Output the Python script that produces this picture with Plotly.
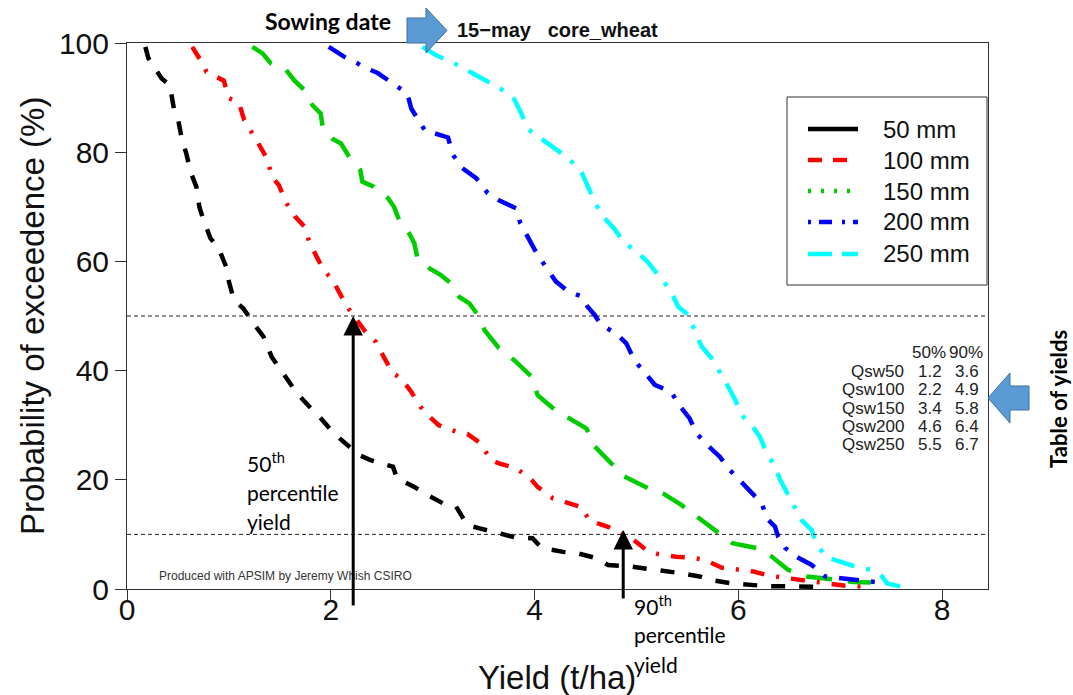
import plotly.graph_objects as go

# ---------------- data ----------------
series_names = ["50 mm", "100 mm", "150 mm", "200 mm", "250 mm"]

qsw50_yield = [0.18, 0.21, 0.34, 0.42, 0.46, 0.50, 0.54, 0.58, 0.63, 0.68, 0.71, 0.75, 0.82, 0.90, 0.98,
               1.00, 1.05, 1.14, 1.28, 1.34, 1.42, 1.49, 1.62, 1.67, 1.82, 1.90, 2.03, 2.13, 2.28, 2.39,
               2.61, 2.65, 2.82, 2.92, 3.10, 3.23, 3.34, 3.46, 3.67, 3.80, 3.98, 4.07, 4.28, 4.43, 4.62,
               4.72, 4.95, 5.08, 5.28, 5.43, 5.62, 5.74, 5.95, 6.10, 6.30, 6.44, 6.64, 6.79]
qsw50_prob = [99.3, 97.2, 93.5, 92.3, 88.0, 86.2, 82.2, 79.9, 76.1, 73.7, 70.0, 67.6, 64.2, 62.4, 58.7,
              56.3, 52.9, 51.4, 47.7, 46.2, 42.5, 40.7, 37.4, 35.8, 32.8, 31.3, 28.5, 27.0, 24.5, 23.6,
              22.4, 20.3, 18.7, 17.5, 15.7, 15.1, 11.7, 11.1, 10.2, 9.5, 9.3, 7.5, 6.8, 6.5, 5.6,
              4.4, 4.1, 3.8, 3.2, 2.9, 2.3, 1.6, 1.0, 0.7, 0.5, 0.5, 0.4, 0.4]

qsw100_yield = [0.64, 0.73, 0.78, 0.95, 1.00, 1.10, 1.15, 1.23, 1.29, 1.38, 1.42, 1.49, 1.56, 1.65, 1.74,
                1.79, 1.87, 1.92, 2.02, 2.11, 2.16, 2.34, 2.44, 2.52, 2.61, 2.69, 2.79, 2.88, 2.93, 3.06,
                3.23, 3.34, 3.47, 3.57, 3.65, 3.82, 3.97, 4.03, 4.18, 4.34, 4.46, 4.54, 4.72, 4.82, 4.97,
                5.10, 5.21, 5.39, 5.56, 5.67, 5.84, 6.02, 6.15, 6.31, 6.48, 6.59, 6.75, 6.89, 7.05, 7.25]
qsw100_prob = [99.3, 96.6, 94.7, 93.1, 89.9, 89.0, 85.9, 83.2, 81.6, 78.6, 75.5, 74.0, 70.8, 68.2, 66.4,
               63.5, 60.6, 58.7, 56.5, 53.5, 51.7, 47.1, 45.3, 42.5, 39.5, 38.6, 36.1, 33.4, 32.2, 30.0,
               28.8, 28.4, 26.7, 23.6, 23.0, 22.1, 20.0, 18.7, 16.6, 15.7, 15.0, 12.5, 11.4, 10.5, 9.0,
               7.1, 6.4, 5.9, 5.7, 5.3, 3.9, 3.5, 3.2, 2.4, 2.0, 1.6, 1.2, 0.9, 0.6, 0.4]

qsw150_yield = [1.23, 1.33, 1.41, 1.56, 1.64, 1.74, 1.82, 1.90, 1.92, 2.01, 2.10, 2.18, 2.29, 2.31, 2.42,
                2.56, 2.62, 2.67, 2.77, 2.82, 2.85, 2.97, 3.08, 3.18, 3.26, 3.36, 3.44, 3.51, 3.65, 3.80,
                3.97, 4.03, 4.20, 4.33, 4.51, 4.59, 4.75, 4.88, 5.12, 5.26, 5.44, 5.62, 5.80, 5.94, 6.18,
                6.33, 6.49, 6.67, 6.92, 7.12, 7.30]
qsw150_prob = [99.3, 98.1, 96.3, 95.1, 93.2, 91.4, 88.6, 87.1, 84.7, 82.5, 81.6, 79.2, 76.7, 74.6, 73.7,
               71.6, 70.0, 67.6, 65.1, 63.3, 60.6, 58.7, 57.5, 56.0, 53.5, 52.3, 50.3, 47.4, 44.1, 41.9,
               38.9, 35.5, 32.8, 31.3, 29.4, 26.1, 23.0, 20.6, 18.4, 17.5, 15.4, 12.9, 10.2, 8.4, 7.5,
               5.9, 3.5, 2.3, 1.8, 1.3, 1.2]

qsw200_yield = [1.98, 2.13, 2.26, 2.31, 2.46, 2.59, 2.75, 2.79, 2.87, 2.93, 3.01, 3.15, 3.20, 3.26, 3.29,
                3.43, 3.54, 3.65, 3.82, 3.86, 3.95, 4.02, 4.11, 4.21, 4.33, 4.46, 4.52, 4.59, 4.65, 4.80,
                4.90, 4.98, 5.10, 5.18, 5.34, 5.43, 5.52, 5.59, 5.71, 5.82, 5.90, 6.02, 6.13, 6.23, 6.28,
                6.36, 6.39, 6.46, 6.57, 6.72, 6.85, 7.02, 7.21, 7.38]
qsw200_prob = [99.3, 97.5, 96.3, 95.7, 94.5, 92.9, 90.8, 88.0, 85.6, 83.8, 83.5, 82.7, 79.5, 77.7, 77.1,
               75.2, 72.5, 71.2, 69.7, 67.0, 63.9, 61.5, 59.0, 56.3, 54.5, 53.6, 51.7, 50.2, 48.4, 46.8,
               45.0, 41.9, 39.2, 37.4, 36.1, 33.4, 31.3, 28.5, 26.1, 24.2, 22.1, 19.7, 17.8, 15.7, 12.9,
               11.4, 9.6, 7.5, 5.9, 4.4, 2.3, 2.0, 1.5, 1.2]

qsw250_yield = [2.90, 3.03, 3.21, 3.36, 3.51, 3.66, 3.80, 3.87, 3.93, 4.06, 4.23, 4.33, 4.46, 4.52, 4.59,
                4.66, 4.79, 4.87, 5.00, 5.11, 5.23, 5.33, 5.41, 5.51, 5.57, 5.64, 5.74, 5.82, 5.89, 5.97,
                6.03, 6.13, 6.21, 6.28, 6.36, 6.41, 6.49, 6.54, 6.62, 6.72, 6.75, 6.85, 7.02, 7.15, 7.31,
                7.41, 7.46, 7.61]
qsw250_prob = [99.3, 97.8, 96.3, 94.7, 93.2, 91.7, 89.7, 87.1, 84.3, 82.5, 80.4, 78.9, 76.4, 73.7, 70.9,
               68.5, 65.8, 63.6, 61.8, 59.9, 57.2, 54.8, 51.7, 50.2, 47.4, 44.4, 42.2, 39.8, 37.4, 34.6,
               31.9, 30.0, 27.9, 24.9, 22.4, 20.0, 17.2, 15.1, 12.6, 10.8, 9.0, 5.9, 5.0, 4.1, 3.5,
               2.3, 1.0, 0.4]

ref_levels = [50, 10]                     # horizontal dashed reference lines (%)
p50_yield_marker = 2.22                   # 50th percentile arrow position (t/ha)
p90_yield_marker = 4.87                   # 90th percentile arrow position (t/ha)

table_names = ["Qsw50", "Qsw100", "Qsw150", "Qsw200", "Qsw250"]
table_p50 = ["1.2", "2.2", "3.4", "4.6", "5.5"]
table_p90 = ["3.6", "4.9", "5.8", "6.4", "6.7"]

x_ticks = [0, 2, 4, 6, 8]
y_ticks = [0, 20, 40, 60, 80, 100]

# ---------------- styles ----------------
colors = ["#000000", "#FF0000", "#00CD00", "#0000FF", "#00FFFF"]
plot_dash = ["14px,14px", "14px,12px,3px,12px", "26px,16px", "20px,12px,4px,12px", "24px,12px,4px,12px"]
legend_dash = ["solid", "14px,11px", "3px,10px", "3px,8px,13px,10px", "24px,10px"]

W, H = 1073, 695
L, R, T, B = 127, 988, 43, 589            # plot frame in window pixels
PW, PH = R - L, B - T


def px(x):
    return (x - L) / PW


def py(y):
    return (B - y) / PH


AX = "Liberation Sans, Arial, sans-serif"
CAL = "Lato, Open Sans, sans-serif"

fig = go.Figure()

all_y = [qsw50_yield, qsw100_yield, qsw150_yield, qsw200_yield, qsw250_yield]
all_p = [qsw50_prob, qsw100_prob, qsw150_prob, qsw200_prob, qsw250_prob]

for name, xs, ys, c, d in zip(series_names, all_y, all_p, colors, plot_dash):
    fig.add_trace(go.Scatter(x=xs, y=ys, mode="lines", name=name, showlegend=False,
                             line=dict(color=c, width=4.5, dash=d)))

shapes = []
for lv in ref_levels:
    shapes.append(dict(type="line", xref="paper", yref="y", x0=0, x1=1, y0=lv, y1=lv,
                       line=dict(color="#222", width=1, dash="4px,3px")))


def block_arrow(points):
    path = "M" + " L".join(f"{px(a):.5f},{py(b):.5f}" for a, b in points) + " Z"
    return dict(type="path", xref="paper", yref="paper", path=path,
                fillcolor="#5B9BD5", line=dict(color="#41719C", width=1), layer="above")


shapes.append(block_arrow([(407, 18), (426, 18), (426, 8), (447, 30.5), (426, 53), (426, 43), (407, 43)]))
shapes.append(block_arrow([(1029, 386), (1010, 386), (1010, 373), (988, 398), (1010, 423), (1010, 410), (1029, 410)]))

ann = []


def text(t, x, y, size, family=AX, color="#111", xa="center", ya="middle", angle=0, weight=None):
    f = dict(family=family, size=size, color=color)
    if weight:
        f["weight"] = weight
    ann.append(dict(text=t, xref="paper", yref="paper", x=px(x), y=py(y), xanchor=xa, yanchor=ya,
                    textangle=angle, showarrow=False, font=f))


# legend (drawn like the original R legend box)
leg_rows = [129, 160, 191, 222, 254]
shapes.append(dict(type="rect", xref="paper", yref="paper", x0=px(787), x1=px(987), y0=py(285), y1=py(97),
                   fillcolor="white", line=dict(color="#333", width=1), layer="above"))
for name, c, d, ry in zip(series_names, colors, legend_dash, leg_rows):
    shapes.append(dict(type="line", xref="paper", yref="paper", x0=px(808), x1=px(858), y0=py(ry), y1=py(ry),
                       line=dict(color=c, width=4.5, dash=d), layer="above"))
    text(name, 881, ry, 24, xa="left")

# axis titles
text("Probability of exceedence (%)", 32, 316, 33, angle=-90)
text("Yield (t/ha)", 557, 677, 33)
# title and callouts
text("15\u2212may\u00a0\u00a0\u00a0core_wheat", 557, 30, 20, weight="bold")
text("<b>Sowing date</b>", 328, 21, 23, family=CAL, color="#000")
text("<b>Table of yields</b>", 1058, 399, 22, family=CAL, color="#000", angle=-90)
text("Produced with APSIM by Jeremy Whish CSIRO", 157, 576, 12, color="#333", xa="left")

# percentile labels
for lines, x0, baselines in [(["50<sup>th</sup>", "percentile", "yield"], 245, [468, 498, 527]),
                             (["90<sup>th</sup>", "percentile", "yield"], 632, [611, 640, 670])]:
    for t, b in zip(lines, baselines):
        text(t, x0, b - 6, 21, family=CAL, color="#000", xa="left")

# percentile arrows
ann.append(dict(x=p50_yield_marker, y=50, ax=p50_yield_marker, ay=-3.3, xref="x", yref="y",
                axref="x", ayref="y", text="", showarrow=True, arrowhead=2, arrowsize=1.3,
                arrowwidth=3, arrowcolor="#000"))
ann.append(dict(x=p90_yield_marker, y=10.8, ax=p90_yield_marker, ay=-2.0, xref="x", yref="y",
                axref="x", ayref="y", text="", showarrow=True, arrowhead=2, arrowsize=1.3,
                arrowwidth=3, arrowcolor="#000"))

# yield table
text("50%", 929, 352, 17, color="#222")
text("90%", 966, 352, 17, color="#222")
row_y = [371, 389, 408, 426, 444]
for nm, a, b, ry in zip(table_names, table_p50, table_p90, row_y):
    text(nm, 906, ry, 17, color="#222", xa="right")
    text(a, 930, ry, 17, color="#222")
    text(b, 967, ry, 17, color="#222")

fig.update_layout(
    width=W, height=H,
    margin=dict(l=L, r=W - R, t=T, b=H - B, pad=0),
    plot_bgcolor="white", paper_bgcolor="white",
    shapes=shapes, annotations=ann,
    showlegend=False,
    xaxis=dict(range=[0, 8.45], tickvals=x_ticks, ticks="outside", ticklen=10, tickcolor="#333",
               showline=True, mirror=True, linecolor="#333", linewidth=1, showgrid=False,
               zeroline=False, ticklabelstandoff=-16, tickfont=dict(family=AX, size=30, color="#111")),
    yaxis=dict(range=[0, 100], tickvals=y_ticks, ticks="outside", ticklen=11, tickcolor="#333",
               showline=True, mirror=True, linecolor="#333", linewidth=1, showgrid=False,
               zeroline=False, tickfont=dict(family=AX, size=30, color="#111")),
)

fig.write_html("out.html", config={"displayModeBar": False},
               post_script="document.body.style.margin='0';document.body.style.overflow='hidden';")
